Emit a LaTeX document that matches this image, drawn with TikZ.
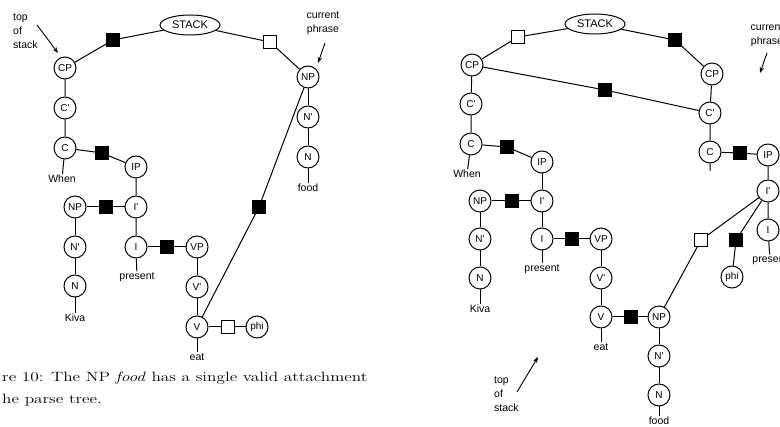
\documentclass[tikz,border=0pt]{standalone}
\usepackage{fontspec}
\newfontfamily\hv{Liberation Sans}
\usetikzlibrary{shapes.geometric,arrows.meta}
\begin{document}
\begin{tikzpicture}[x=1pt,y=-1pt,
  nd/.style={circle,draw,line width=1pt,minimum size=22pt,inner sep=0pt,font=\hv\fontsize{10}{10}\selectfont},
  fsq/.style={rectangle,draw,fill=black,minimum size=13pt,inner sep=0pt},
  osq/.style={rectangle,draw,fill=white,minimum size=13pt,inner sep=0pt,line width=1pt},
  stk/.style={ellipse,draw,line width=1pt,minimum width=60pt,minimum height=20pt,inner sep=0pt,font=\hv\fontsize{11}{11}\selectfont},
  wd/.style={font=\hv\fontsize{10.5}{10.5}\selectfont,inner sep=1pt},
  ed/.style={line width=1pt},
  lbl/.style={font=\hv\fontsize{10.5}{14}\selectfont,inner sep=0pt},
  arr/.style={-{Stealth[length=6pt,width=4.5pt]},line width=0.9pt},
  captxt/.style={font=\fontsize{13.5}{16}\selectfont,inner sep=0pt,anchor=base west}
]
\useasboundingbox (0,0) rectangle (780,427);
\clip (0,0) rectangle (780,427);
\fill[white] (0,0) rectangle (780,427);

% ---------------- left diagram ----------------
\node[stk] (stack) at (190,25) {STACK};
\node[fsq] (fs1) at (113,40) {};
\node[osq] (os1) at (270,42) {};
\node[nd] (cp) at (65,68) {CP};
\node[nd] (cb) at (65,108) {C'};
\node[nd] (c) at (65,148) {C};
\node[wd] (when) at (62,179) {When};
\node[fsq] (fs2) at (102,153) {};
\node[nd] (ip) at (136,167) {IP};
\node[nd] (ib) at (136,207) {I'};
\node[nd] (npl) at (75,207) {NP};
\node[fsq] (fs3) at (106,207) {};
\node[nd] (nbl) at (75,247) {N'};
\node[nd] (nl) at (75,286) {N};
\node[wd] (kiva) at (75,318) {Kiva};
\node[nd] (i) at (136,247) {I};
\node[wd] (pres) at (137,277) {present};
\node[fsq] (fs4) at (167,247) {};
\node[nd] (vp) at (197,247) {VP};
\node[nd] (vb) at (197,287) {V'};
\node[nd] (v) at (197,327) {V};
\node[wd] (eat) at (197,357) {eat};
\node[osq] (os2) at (228,327) {};
\node[nd] (phi) at (257,327) {phi};
\node[fsq] (fs5) at (259,207) {};
\node[nd] (np) at (308,77) {NP};
\node[nd] (nb) at (308,117) {N'};
\node[nd] (n) at (308,157) {N};
\node[wd] (food) at (308,188) {food};

\draw[ed] (cp) -- (fs1) -- (stack) -- (os1) -- (np);
\draw[ed] (cp) -- (cb) -- (c) -- (when);
\draw[ed] (c) -- (fs2) -- (ip);
\draw[ed] (ip) -- (ib) -- (i) -- (pres);
\draw[ed] (npl) -- (fs3) -- (ib);
\draw[ed] (npl) -- (nbl) -- (nl) -- (kiva);
\draw[ed] (i) -- (fs4) -- (vp);
\draw[ed] (vp) -- (vb) -- (v) -- (eat);
\draw[ed] (v) -- (os2) -- (phi);
\draw[ed] (v) -- (fs5) -- (np);
\draw[ed] (np) -- (nb) -- (n) -- (food);

\node[lbl,align=left,anchor=west] (tos1) at (13,31) {top\\of\\stack};
\coordinate (a1s) at (37,25);
\coordinate (a1e) at (58,53);
\draw[arr] (a1s) -- (a1e);
\node[lbl,align=center] (cur1) at (323,23.5) {current\\phrase};
\coordinate (a2s) at (325,43);
\coordinate (a2e) at (318,63);
\draw[arr] (a2s) -- (a2e);

\node[captxt] (cap1) at (2,382) {\scalebox{1.28}[1]{re 10: The NP \textit{food} has a single valid attachment}};
\node[captxt] (cap2) at (2,404) {\scalebox{1.28}[1]{he parse tree.}};

% ---------------- right diagram ----------------
\node[stk] (stack2) at (595,24) {STACK};
\node[osq] (os3) at (518,37) {};
\node[fsq] (fs6) at (675,40) {};
\node[nd] (cpl) at (472,65) {CP};
\node[nd] (cbl) at (471,104) {C'};
\node[nd] (cl) at (471,144) {C};
\node[wd] (when2) at (467,174) {When};
\node[fsq] (fs7) at (507,147) {};
\node[nd] (ip2) at (542,162) {IP};
\node[nd] (ib2) at (542,201) {I'};
\node[nd] (np3) at (480,201) {NP};
\node[fsq] (fs8) at (512,201) {};
\node[nd] (nb3) at (480,239) {N'};
\node[nd] (n3) at (480,278) {N};
\node[wd] (kiva2) at (480,309) {Kiva};
\node[nd] (i2) at (542,239) {I};
\node[wd] (pres2) at (542,269) {present};
\node[fsq] (fs9) at (572,239) {};
\node[nd] (vp2) at (601,239) {VP};
\node[nd] (vb2) at (601,278) {V'};
\node[nd] (v2) at (601,317) {V};
\node[wd] (eat2) at (601,347) {eat};
\node[fsq] (fs10) at (631,317) {};
\node[nd] (np4) at (659,317) {NP};
\node[nd] (nb4) at (659,356) {N'};
\node[nd] (n4) at (659,395) {N};
\node[wd] (food2) at (659,421) {food};
\node[fsq] (fs11) at (605,90) {};
\node[nd] (cpr) at (712,74) {CP};
\node[nd] (cbr) at (710,113) {C'};
\node[nd] (cr) at (710,152) {C};
\coordinate (crt) at (710,171);
\node[fsq] (fs12) at (740,153) {};
\node[nd] (ipr) at (768,155) {IP};
\node[nd] (ibr) at (768,191) {I'};
\node[nd] (ir) at (768,230) {I};
\node[wd] (pres3) at (770,260) {present};
\node[osq] (os4) at (701,240) {};
\node[fsq] (fs13) at (736,240) {};
\node[nd] (phi2) at (732,277) {phi};

\draw[ed] (cpl) -- (os3) -- (stack2) -- (fs6) -- (cpr);
\draw[ed] (cpl) -- (cbl) -- (cl) -- (when2);
\draw[ed] (cl) -- (fs7) -- (ip2);
\draw[ed] (ip2) -- (ib2) -- (i2) -- (pres2);
\draw[ed] (np3) -- (fs8) -- (ib2);
\draw[ed] (np3) -- (nb3) -- (n3) -- (kiva2);
\draw[ed] (i2) -- (fs9) -- (vp2);
\draw[ed] (vp2) -- (vb2) -- (v2) -- (eat2);
\draw[ed] (v2) -- (fs10) -- (np4);
\draw[ed] (np4) -- (nb4) -- (n4) -- (food2);
\draw[ed] (cpl) -- (fs11) -- (cbr);
\draw[ed] (cpr) -- (cbr) -- (cr) -- (crt);
\draw[ed] (cr) -- (fs12) -- (ipr);
\draw[ed] (ipr) -- (ibr) -- (ir) -- (pres3);
\draw[ed] (np4) -- (os4) -- (ibr);
\draw[ed] (ibr) -- (fs13) -- (phi2);

\node[lbl,align=left,anchor=west] (tos2) at (494,394) {top\\of\\stack};
\coordinate (a3s) at (517,392);
\coordinate (a3e) at (538,357);
\draw[arr] (a3s) -- (a3e);
\node[lbl,align=center] (cur2) at (767,35.5) {current\\phrase};
\coordinate (a4s) at (767,53);
\coordinate (a4e) at (760,73);
\draw[arr] (a4s) -- (a4e);
\end{tikzpicture}
\end{document}
